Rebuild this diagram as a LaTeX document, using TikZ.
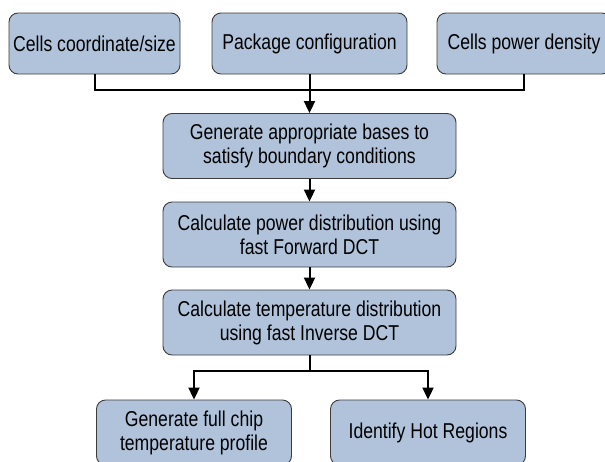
\documentclass[tikz,border=0pt]{standalone}
\usepackage{fontspec}
\setmainfont{Liberation Sans}[FakeStretch=0.82]
\usetikzlibrary{arrows.meta}
\definecolor{boxfill}{RGB}{176,195,219}
\definecolor{boxline}{RGB}{60,60,60}
\tikzset{
    stepnode/.style = {rectangle, rounded corners=9pt, draw=boxline, line width=0.9pt, fill=boxfill, align=center, inner sep=0pt, font=\fontsize{21.5}{24}\selectfont, text=black},
    topnode/.style = {stepnode, minimum height=61pt},
    midnode/.style = {stepnode, minimum width=293pt, minimum height=65pt},
    botnode/.style = {stepnode, minimum width=195pt, minimum height=65pt},
    edgen/.style = {-, line width=2pt, black},
    edgea/.style = {edgen, -{Triangle[length=12pt,width=11pt]}}
}

\begin{document}
\begin{tikzpicture}[x=1pt,y=-1pt]
\useasboundingbox (0,0) rectangle (605,461);
%
\node[topnode,minimum width=171pt] at (94.5,43.5) (coord) {Cells coordinate/size};
\node[topnode,minimum width=195pt] at (309.5,43.5) (pack) {Package configuration};
\node[topnode,minimum width=174pt] at (524,43.5) (dens) {Cells power density};
%
\node[midnode] at (309.5,146) (bases) {Generate appropriate bases to\\satisfy boundary conditions};
\node[midnode] at (309.5,234.5) (fdct) {Calculate power distribution using\\fast Forward DCT};
\node[midnode] at (309.5,322.5) (idct) {Calculate temperature distribution\\using fast Inverse DCT};
%
\node[botnode] at (194,432.5) (full) {Generate full chip\\temperature profile};
\node[botnode] at (428,432.5) (hot) {Identify Hot Regions};
%
\coordinate (jtop) at (309.5,90);
\coordinate (jbot) at (309.5,371);
%
\draw[edgen] (coord.south) |- (jtop);
\draw[edgen] (dens.south) |- (jtop);
\draw[edgea] (pack.south) -- (bases.north);
\draw[edgea] (bases.south) -- (fdct.north);
\draw[edgea] (fdct.south) -- (idct.north);
\draw[edgen] (idct.south) -- (jbot);
\draw[edgea] (jbot) -| (full.north);
\draw[edgea] (jbot) -| (hot.north);

\end{tikzpicture}
\end{document}
